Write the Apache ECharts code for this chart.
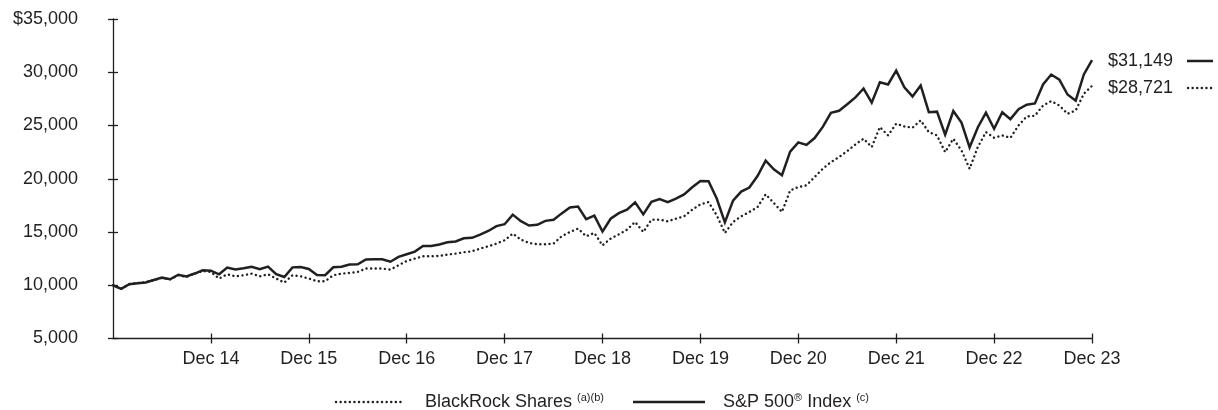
<!DOCTYPE html>
<html>
<head>
<meta charset="utf-8">
<script src="https://cdn.jsdelivr.net/npm/echarts@6/dist/echarts.min.js"></script>
<style>
  html, body { margin: 0; padding: 0; background: #fff; }
  #chart { width: 1218px; height: 410px; }
</style>
</head>
<body>
<div id="chart"></div>
<script>
// month-end values of a $10,000 investment, Dec 13 .. Dec 23
const monthNames = ['Jan', 'Feb', 'Mar', 'Apr', 'May', 'Jun', 'Jul', 'Aug', 'Sep', 'Oct', 'Nov', 'Dec'];
const years = ['14', '15', '16', '17', '18', '19', '20', '21', '22', '23'];

const spIndex = [
    10000,
    9654, 10095, 10180, 10255, 10496, 10713, 10565, 10988, 10834, 11098, 11397, 11369,
    11028, 11662, 11478, 11588, 11737, 11510, 11752, 11043, 10770, 11679, 11714, 11529,
    10957, 10943, 11685, 11730, 11941, 11972, 12414, 12431, 12434, 12208, 12660, 12910,
    13155, 13677, 13694, 13835, 14030, 14117, 14408, 14453, 14751, 15094, 15558, 15731,
    16632, 16018, 15611, 15671, 16048, 16148, 16748, 17294, 17393, 16203, 16534, 15041,
    16246, 16767, 17092, 17785, 16656, 17830, 18087, 17801, 18134, 18527, 19200, 19780,
    19772, 18145, 15904, 17943, 18797, 19171, 20252, 21708, 20883, 20328, 22554, 23420,
    23183, 23823, 24866, 26194, 26377, 26992, 27634, 28474, 27150, 29053, 28853, 30146,
    28587, 27732, 28761, 26253, 26300, 24130, 26355, 25280, 22952, 24811, 26198, 24689,
    26239, 25599, 26539, 26953, 27069, 28858, 29784, 29310, 27912, 27326, 29797, 31149
];

const blackRock = [
    10000,
    9680, 10110, 10200, 10300, 10480, 10690, 10560, 10940, 10780, 11090, 11340, 11250,
    10630, 11030, 10840, 10940, 11090, 10840, 11030, 10630, 10250, 10940, 10840, 10630,
    10380, 10380, 10940, 11090, 11160, 11250, 11570, 11570, 11570, 11470, 11880, 12280,
    12500, 12720, 12720, 12750, 12880, 12970, 13100, 13190, 13440, 13660, 13910, 14220,
    14850, 14280, 13970, 13850, 13850, 13910, 14600, 15000, 15320, 14600, 14910, 13750,
    14380, 14780, 15220, 15940, 15000, 16160, 16160, 16000, 16250, 16470, 17100, 17600,
    17810, 16570, 14910, 15940, 16470, 16880, 17340, 18540, 17720, 16880, 18900, 19220,
    19380, 20160, 20940, 21570, 22030, 22600, 23220, 23760, 22970, 24850, 24070, 25170,
    24910, 24790, 25480, 24380, 24070, 22500, 23760, 22660, 20940, 22970, 24380, 23850,
    24070, 23850, 25010, 25850, 25920, 26880, 27290, 26880, 26100, 26410, 27980, 28721
];

const yTicks = [5000, 10000, 15000, 20000, 25000, 30000, 35000];

const months = ['Dec 13'];
years.forEach(y => monthNames.forEach(m => months.push(m + ' ' + y)));

const ink = '#231f20';
const font = '"Liberation Sans", Arial, Helvetica, sans-serif';
const dots = [0.1, 4.5];

const fmt = v => v.toLocaleString('en-US');
const yLabel = v => (v === yTicks[yTicks.length - 1] ? '$' : '') + fmt(v);
const isYearEnd = i => i > 0 && i % 12 === 0;

const chart = echarts.init(document.getElementById('chart'));

const xBase = {
    type: 'category',
    data: months,
    boundaryGap: false,
    position: 'bottom'
};
const yBase = {
    type: 'value',
    min: 5000,
    max: 35000,
    interval: 5000,
    position: 'left',
    splitLine: {show: false}
};

const lastSp = spIndex[spIndex.length - 1];
const lastBr = blackRock[blackRock.length - 1];

const richText = {
    t: {fontSize: 18, fontFamily: font, fill: ink, lineHeight: 20},
    s: {fontSize: 11, fontFamily: font, fill: ink, lineHeight: 20, verticalAlign: 'top'}
};

chart.setOption({
    animation: false,
    backgroundColor: '#fff',
    textStyle: {fontFamily: font, color: ink},
    grid: {left: 113, right: 126, top: 19, bottom: 71.5, containLabel: false},
    xAxis: [
        Object.assign({}, xBase, {
            axisLine: {lineStyle: {color: ink, width: 1.3}},
            axisTick: {interval: isYearEnd, length: 5, lineStyle: {color: ink, width: 1.3}},
            axisLabel: {interval: isYearEnd, margin: 12, fontSize: 18, color: ink, fontFamily: font}
        }),
        Object.assign({}, xBase, {
            axisLine: {show: false},
            axisTick: {interval: isYearEnd, inside: true, length: 5, lineStyle: {color: ink, width: 1.3}},
            axisLabel: {show: false}
        })
    ],
    yAxis: [
        Object.assign({}, yBase, {
            axisLine: {show: true, lineStyle: {color: ink, width: 1.3}},
            axisTick: {show: true, length: 5, lineStyle: {color: ink, width: 1.3}},
            axisLabel: {margin: 35, fontSize: 18, color: ink, fontFamily: font, formatter: yLabel}
        }),
        Object.assign({}, yBase, {
            axisLine: {show: false},
            axisTick: {show: true, inside: true, length: 5, lineStyle: {color: ink, width: 1.3}},
            axisLabel: {show: false}
        })
    ],
    graphic: [
        // end values
        {type: 'text', left: 1108, top: 52, style: {text: '$' + fmt(lastSp), font: '18px ' + font, fill: ink}},
        {type: 'line', shape: {x1: 1187, y1: 61, x2: 1213, y2: 61}, style: {stroke: ink, lineWidth: 2.5}},
        {type: 'text', left: 1108, top: 79, style: {text: '$' + fmt(lastBr), font: '18px ' + font, fill: ink}},
        {type: 'line', shape: {x1: 1188, y1: 88, x2: 1213, y2: 88}, style: {stroke: ink, lineWidth: 2.4, lineDash: dots, lineCap: 'round'}},
        // legend
        {type: 'line', shape: {x1: 336, y1: 402, x2: 405, y2: 402}, style: {stroke: ink, lineWidth: 2.4, lineDash: dots, lineCap: 'round'}},
        {type: 'text', x: 425, y: 402, style: {text: '{t|BlackRock Shares }{s|(a)(b)}', rich: richText, verticalAlign: 'middle'}},
        {type: 'line', shape: {x1: 633, y1: 402, x2: 705, y2: 402}, style: {stroke: ink, lineWidth: 2.5}},
        {type: 'text', x: 723, y: 402, style: {text: '{t|S&P 500}{s|®}{t| Index }{s|(c)}', rich: richText, verticalAlign: 'middle'}}
    ],
    series: [
        {
            name: 'BlackRock Shares',
            type: 'line',
            data: blackRock,
            showSymbol: false,
            symbol: 'none',
            lineStyle: {color: ink, width: 2.4, type: dots, cap: 'round'},
            z: 3
        },
        {
            name: 'S&P 500 Index',
            type: 'line',
            data: spIndex,
            showSymbol: false,
            symbol: 'none',
            lineStyle: {color: ink, width: 2.5, join: 'miter'},
            z: 4
        }
    ]
});
</script>
</body>
</html>
